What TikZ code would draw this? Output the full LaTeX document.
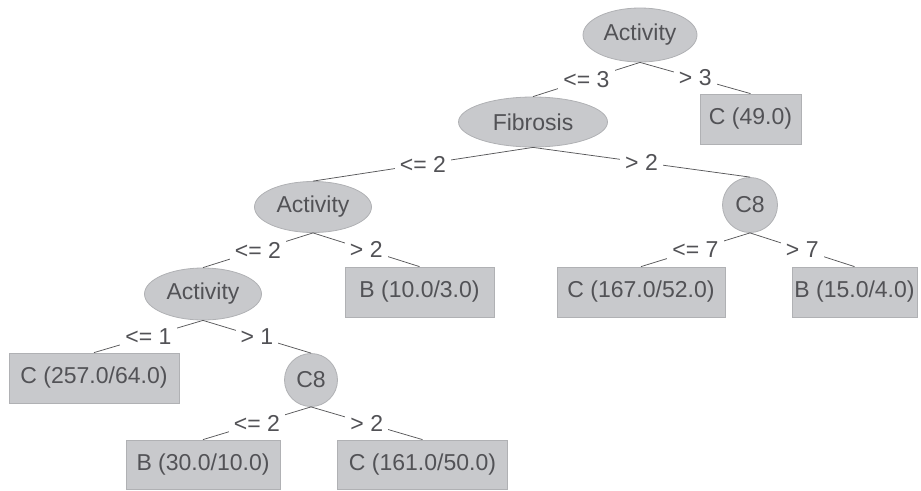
\documentclass[tikz,border=0pt]{standalone}
\usepackage{fontspec}
\setmainfont{Liberation Sans}
\usetikzlibrary{shapes.geometric}
\definecolor{nodefill}{RGB}{200,201,204}
\definecolor{nodeline}{RGB}{176,177,180}
\definecolor{txt}{RGB}{82,82,86}
\definecolor{edgecol}{RGB}{88,88,90}
\begin{document}
\begin{tikzpicture}[x=1pt,y=-1pt,
  every node/.style={text=txt, font=\fontsize{23}{26}\selectfont},
  split/.style={ellipse, fill=nodefill, draw=nodeline, line width=0.8pt, inner sep=0pt},
  rnd/.style={circle, fill=nodefill, draw=nodeline, line width=0.8pt, inner sep=0pt},
  leaf/.style={rectangle, fill=nodefill, draw=nodeline, line width=0.8pt, inner sep=0pt},
  lbl/.style={fill=white, inner xsep=5pt, inner ysep=2pt},
  conn/.style={draw=edgecol, line width=0.75pt}]
\useasboundingbox (0,0) rectangle (921,490);

\node[split, minimum width=114pt, minimum height=54pt] (root) at (640,35) {Activity};
\node[leaf, minimum width=101pt, minimum height=50pt] (c49) at (750.5,119) {C (49.0)};
\node[split, minimum width=149pt, minimum height=50pt] (fib) at (533,122) {Fibrosis};
\node[split, minimum width=117pt, minimum height=51pt] (act2) at (313,207) {Activity};
\node[rnd, minimum size=55pt] (c8a) at (750,205) {C8};
\node[leaf, minimum width=149pt, minimum height=50pt] (b10) at (419.5,292) {B (10.0/3.0)};
\node[leaf, minimum width=168pt, minimum height=50pt] (c167) at (641,292) {C (167.0/52.0)};
\node[leaf, minimum width=125pt, minimum height=50pt] (b15) at (854.5,292) {B (15.0/4.0)};
\node[split, minimum width=117pt, minimum height=52pt] (act3) at (203,294) {Activity};
\node[leaf, minimum width=170pt, minimum height=50pt] (c257) at (94,378) {C (257.0/64.0)};
\node[rnd, minimum size=53pt] (c8b) at (311,380) {C8};
\node[leaf, minimum width=154pt, minimum height=49pt] (b30) at (203,464.5) {B (30.0/10.0)};
\node[leaf, minimum width=170pt, minimum height=49pt] (c161) at (422.5,464.5) {C (161.0/50.0)};

\draw[conn] (root.south) -- node[lbl] {<= 3} (fib.north);
\draw[conn] (root.south) -- node[lbl] {> 3} (c49.north);
\draw[conn] (fib.south) -- node[lbl] {<= 2} (act2.north);
\draw[conn] (fib.south) -- node[lbl] {> 2} (c8a.north);
\draw[conn] (act2.south) -- node[lbl] {<= 2} (act3.north);
\draw[conn] (act2.south) -- node[lbl] {> 2} (b10.north);
\draw[conn] (c8a.south) -- node[lbl] {<= 7} (c167.north);
\draw[conn] (c8a.south) -- node[lbl] {> 7} (b15.north);
\draw[conn] (act3.south) -- node[lbl] {<= 1} (c257.north);
\draw[conn] (act3.south) -- node[lbl] {> 1} (c8b.north);
\draw[conn] (c8b.south) -- node[lbl] {<= 2} (b30.north);
\draw[conn] (c8b.south) -- node[lbl] {> 2} (c161.north);
\end{tikzpicture}
\end{document}
